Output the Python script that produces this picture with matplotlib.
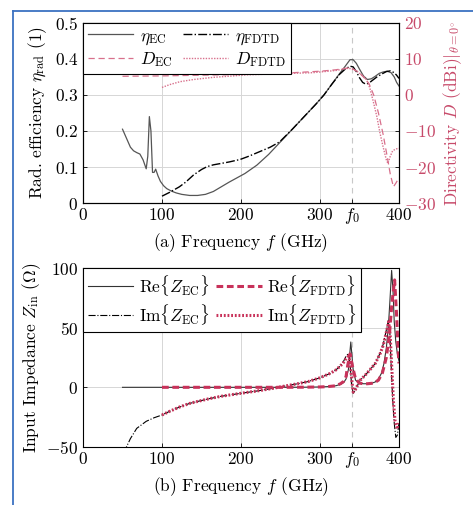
import matplotlib
matplotlib.use("Agg")
from matplotlib import pyplot as plt
from matplotlib.lines import Line2D

plt.rcParams["font.family"] = "serif"
plt.rcParams["font.serif"] = ["cmr10", "DejaVu Serif"]
plt.rcParams["mathtext.fontset"] = "cm"
plt.rcParams["axes.unicode_minus"] = False

## (a) efficiency and directivity
f_eta_ec = [50, 55, 60, 64, 68, 72, 76, 80, 82, 84, 86, 88, 90, 92, 95, 98, 102, 106, 112, 118,
            125, 135, 145, 155, 165, 175, 185, 195, 205, 220, 235, 250, 265, 280, 295, 305, 315,
            325, 332, 338, 342, 346, 350, 355, 360, 365, 370, 375, 380, 385, 390, 394, 397, 400]
eta_ec = [0.205, 0.18, 0.155, 0.145, 0.14, 0.136, 0.12, 0.095, 0.13, 0.24, 0.2, 0.085, 0.085,
          0.094, 0.075, 0.06, 0.048, 0.04, 0.033, 0.028, 0.024, 0.021, 0.021, 0.024, 0.032,
          0.045, 0.058, 0.07, 0.082, 0.105, 0.135, 0.17, 0.205, 0.24, 0.275, 0.3, 0.33, 0.36,
          0.38, 0.398, 0.398, 0.388, 0.372, 0.353, 0.343, 0.345, 0.352, 0.36, 0.364, 0.366,
          0.362, 0.35, 0.335, 0.325]

f_eta_fdtd = [100, 110, 122, 130, 140, 150, 157, 165, 175, 185, 199, 210, 224, 237, 249, 265,
              280, 295, 305, 315, 325, 332, 338, 342, 346, 350, 354, 358, 362, 366, 372, 378,
              384, 389, 394, 397, 400]
eta_fdtd = [0.019, 0.03, 0.045, 0.058, 0.078, 0.093, 0.101, 0.106, 0.11, 0.114, 0.121, 0.13,
            0.143, 0.155, 0.17, 0.205, 0.24, 0.275, 0.3, 0.33, 0.358, 0.372, 0.38, 0.378, 0.365,
            0.348, 0.335, 0.33, 0.333, 0.34, 0.35, 0.358, 0.365, 0.367, 0.362, 0.355, 0.346]

f_d_ec = [50, 100, 150, 200, 250, 300, 320, 335, 340, 348, 355, 362, 368, 374, 380, 385, 389,
          393, 396, 400]
d_ec = [5.2, 5.3, 5.5, 5.7, 6.0, 6.6, 7.0, 7.5, 7.4, 6.5, 5.0, 3.2, 0, -5, -11, -17, -22,
        -25.5, -24.5, -23]

f_d_fdtd = [100, 110, 123, 140, 165, 190, 207, 250, 291, 320, 335, 340, 348, 355, 359, 363,
            367, 372, 376, 380, 384, 386, 389, 392, 396, 400]
d_fdtd = [2.1, 2.9, 3.7, 4.3, 4.9, 5.3, 5.6, 5.9, 6.2, 6.8, 7.4, 7.3, 6.4, 5.2, 4.2, 2.0, -1.4,
          -6.0, -10.6, -14.5, -18, -19, -17, -15.5, -15, -14.8]

## (b) input impedance
f_re_ec = [50, 100, 150, 200, 250, 280, 300, 310, 320, 326, 330, 333, 336, 339, 342, 345, 350,
           355, 360, 365, 370, 374, 378, 381, 384, 386.5, 388.5, 390.7, 392.5, 394, 396, 398, 400]
re_ec = [0, 0, 0, 0, 0, 0.1, 0.3, 0.6, 1.3, 2.5, 4, 7, 15, 38, 15, 6, 3.5, 3, 3, 3.3, 4.5, 7,
         12, 20, 33, 50, 72, 98, 80, 55, 38, 28, 22]

f_re_fdtd = [100, 150, 200, 250, 280, 300, 310, 320, 326, 330, 333, 335, 338, 341, 345, 350,
             355, 360, 368, 374, 379, 384, 388, 391, 394.5, 397, 399, 400]
re_fdtd = [0, 0, 0, 0, 0.1, 0.3, 0.6, 1.3, 3, 5, 9, 18, 28, 18, 7, 3.5, 3, 3, 3.5, 6, 12, 25,
           45, 70, 90, 60, 30, 20]

f_im_ec = [52, 55, 60, 68, 80, 90, 100, 110, 123, 135, 144, 160, 175, 186, 200, 220, 241, 255,
           270, 285, 291, 300, 313, 320, 326, 330, 333, 336, 338, 340, 342, 344, 347, 351, 357,
           363, 370, 376, 380, 384, 386.5, 388.5, 390, 392, 394, 396, 398, 400]
im_ec = [-55, -50, -43, -34.4, -28.5, -25.5, -23.2, -20, -16.3, -13.5, -12, -9.5, -7.5, -6.4,
         -5, -3.1, -0.8, 1, 2.8, 4.8, 6.1, 8, 11.7, 14.5, 18, 22, 26, 28.5, 20, 2, -5, -3, 1, 6,
         10, 14.5, 20, 28.5, 36, 48, 56, 45, 20, -10, -30, -42, -40, -30]

f_im_fdtd = [100, 110, 123, 135, 144, 160, 175, 186, 200, 220, 241, 255, 270, 285, 291, 300,
             313, 320, 326, 330, 333, 336, 338, 340, 342, 344, 347, 351, 357, 363, 370, 376,
             380, 384, 387, 389, 391, 393, 395, 398, 400]
im_fdtd = [-23.2, -20, -16.3, -13.5, -12, -9.5, -7.5, -6.4, -5, -3.1, -0.8, 1, 2.8, 4.8, 6.1,
           8, 11.7, 14.5, 18, 21, 24, 26, 22, 8, -4, -3, 1, 6, 10, 14.5, 20, 28, 35, 46, 55,
           42, 15, -12, -28, -35, -30]

f0 = 340
xticks = [0, 100, 200, 300, f0, 400]
xticklabels = ["$0$", "$100$", "$200$", "$300$", "$f_0$", "$400$"]

pink = "#d8708c"
crimson = "#c8325a"
axcol = "#c74a6a"
fs = 12.5

fig = plt.figure(figsize=(4.73, 5.05), dpi=100)
ax1 = fig.add_axes([0.1755, 0.598, 0.668, 0.3565])
ax2 = fig.add_axes([0.1755, 0.1149, 0.668, 0.3544])


def style_x(ax):
    ax.set_xlim(0, 400)
    ax.set_xticks(xticks)
    ax.set_xticklabels(xticklabels, fontsize=fs)
    ax.tick_params(direction="in", length=3, width=0.6)
    # put all labels on one baseline (f0 has a tall glyph)
    ax.tick_params(axis="x", pad=12)
    for t in ax.get_xticklabels():
        t.set_va("baseline")
    for x in [100, 200, 300]:
        ax.axvline(x, color="#d6d6d6", lw=0.7, zorder=0)
    ax.axvline(f0, color="#c8c8c8", lw=0.8, ls=(0, (5, 4)), zorder=0)
    for s in ax.spines.values():
        s.set_linewidth(0.8)


## (a)
style_x(ax1)
ax1.set_ylim(0, 0.5)
ax1.set_yticks([0, 0.1, 0.2, 0.3, 0.4, 0.5])
ax1.set_yticklabels(["$0$", "$0.1$", "$0.2$", "$0.3$", "$0.4$", "$0.5$"], fontsize=fs)
for y in [0.1, 0.2, 0.3, 0.4]:
    ax1.axhline(y, color="#d6d6d6", lw=0.7, zorder=0)
l1, = ax1.plot(f_eta_ec, eta_ec, color="#555555", lw=0.9)
l2, = ax1.plot(f_eta_fdtd, eta_fdtd, color="black", lw=1.0, ls="-.")
ax1.set_ylabel(r"Rad. efficiency $\eta_{\mathrm{rad}}$ (1)", fontsize=fs, labelpad=4)
ax1.set_xlabel(r"(a) Frequency $f$ (GHz)", fontsize=fs, labelpad=4)

ax1r = ax1.twinx()
ax1r.set_ylim(-30, 20)
ax1r.set_yticks([-30, -20, -10, 0, 10, 20])
ax1r.set_yticklabels(["$-30$", "$-20$", "$-10$", "$0$", "$10$", "$20$"], fontsize=fs,
                     color=axcol)
ax1r.tick_params(direction="in", length=3, width=0.6)
l3, = ax1r.plot(f_d_ec, d_ec, color=pink, lw=0.9, ls=(0, (5, 3)))
l4, = ax1r.plot(f_d_fdtd, d_fdtd, color=pink, lw=1.0, ls=(0, (1, 1)))
ax1r.set_ylabel(r"Directivity $D$ (dBi)$|_{\theta=0^{\circ}}$", fontsize=fs, color=axcol,
                labelpad=4)

leg = ax1r.legend([l1, l3, l2, l4],
                  [r"$\eta_{\mathrm{EC}}$", r"$D_{\mathrm{EC}}$",
                   r"$\eta_{\mathrm{FDTD}}$", r"$D_{\mathrm{FDTD}}$"],
                  ncol=2, loc="upper left", bbox_to_anchor=(0, 1), fontsize=fs,
                  fancybox=False, framealpha=1, edgecolor="black", borderaxespad=0,
                  handlelength=2.6, handletextpad=0.4, columnspacing=0.6,
                  borderpad=0.3, labelspacing=0.2)
leg.get_frame().set_linewidth(0.8)

## (b)
style_x(ax2)
ax2.set_ylim(-50, 100)
ax2.set_yticks([-50, 0, 50, 100])
ax2.set_yticklabels(["$-50$", "$0$", "$50$", "$100$"], fontsize=fs)
for y in [0, 50]:
    ax2.axhline(y, color="#d6d6d6", lw=0.7, zorder=0)
m1, = ax2.plot(f_re_ec, re_ec, color="#333333", lw=0.8)
m2, = ax2.plot(f_im_ec, im_ec, color="black", lw=0.8, ls="-.")
m3, = ax2.plot(f_re_fdtd, re_fdtd, color=crimson, lw=2.2, ls=(0, (2.2, 1.2)))
m4, = ax2.plot(f_im_fdtd, im_fdtd, color=crimson, lw=2.2, ls=(0, (0.6, 0.6)))
ax2.set_ylabel(r"Input Impedance $Z_{\mathrm{in}}$ ($\Omega$)", fontsize=fs, labelpad=2)
ax2.set_xlabel(r"(b) Frequency $f$ (GHz)", fontsize=fs, labelpad=4)
leg2 = ax2.legend([m1, m2, m3, m4],
                  [r"Re$\{Z_{\mathrm{EC}}\}$", r"Im$\{Z_{\mathrm{EC}}\}$",
                   r"Re$\{Z_{\mathrm{FDTD}}\}$", r"Im$\{Z_{\mathrm{FDTD}}\}$"],
                  ncol=2, loc="upper left", bbox_to_anchor=(0, 1), fontsize=fs,
                  fancybox=False, framealpha=1, edgecolor="black", borderaxespad=0,
                  handlelength=2.6, handletextpad=0.3, columnspacing=0.4,
                  borderpad=0.3, labelspacing=0.2)
leg2.get_frame().set_linewidth(0.8)

## page frame
fig.add_artist(Line2D([13 / 473, 13 / 473], [0, 1 - 11 / 505], color="#3b72c2", lw=1.3))
fig.add_artist(Line2D([13 / 473, 1], [1 - 11 / 505, 1 - 11 / 505], color="#3b72c2", lw=1.3))

fig.savefig("out.png", dpi=100)
